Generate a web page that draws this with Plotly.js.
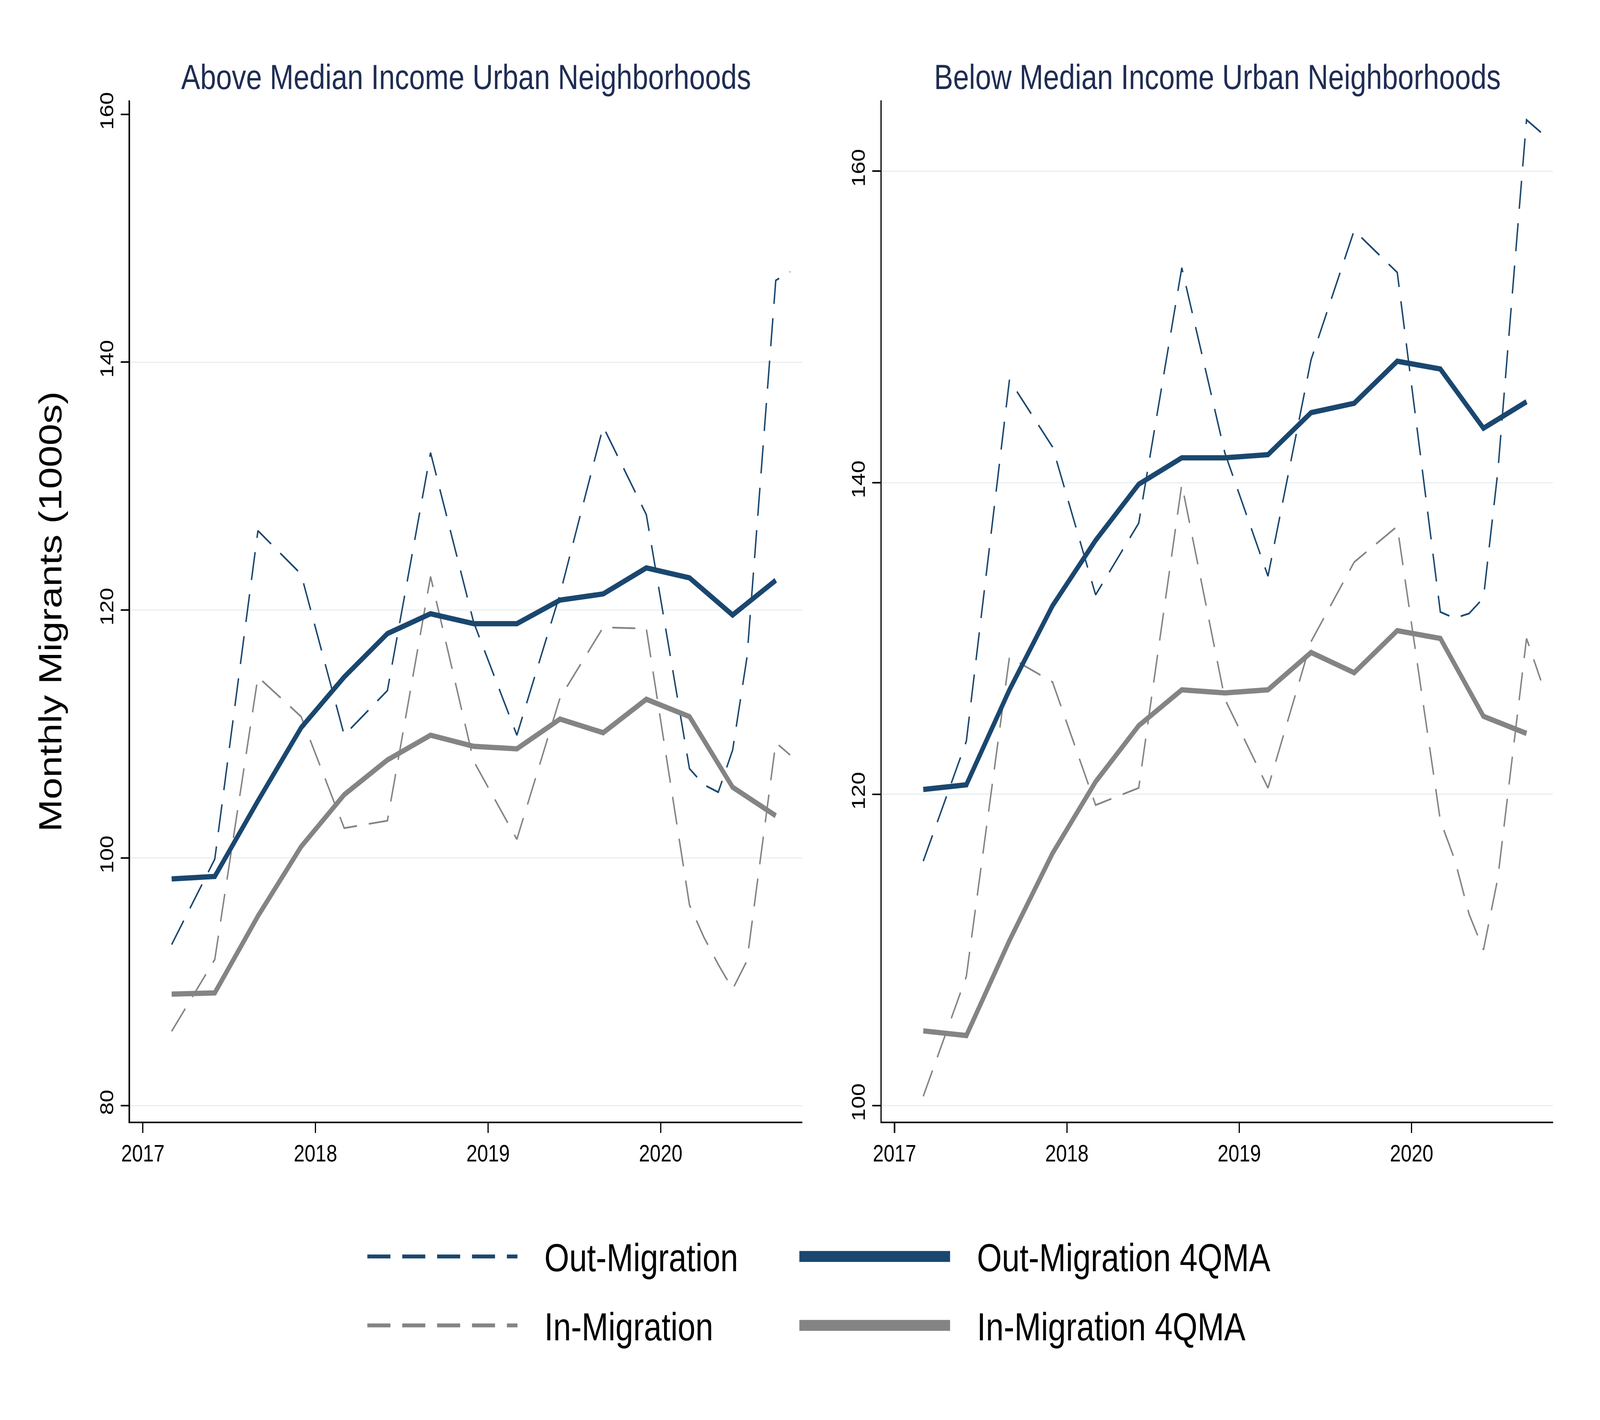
<!DOCTYPE html>
<html>
<head>
<meta charset="utf-8">
<script src="https://cdn.plot.ly/plotly-3.0.1.min.js"></script>
<style>
  html, body { margin: 0; padding: 0; background: #fff; overflow: hidden; }
  #chart { width: 5000px; height: 3636px; transform-origin: 0 0; }
</style>
</head>
<body>
<div id="chart"></div>
<script>
// x labels (year-month); raw series go monthly through 2020
const rawMonths = ["2017-03", "2017-06", "2017-09", "2017-12",
                   "2018-03", "2018-06", "2018-09", "2018-12",
                   "2019-03", "2019-06", "2019-09", "2019-12",
                   "2020-03", "2020-04", "2020-05", "2020-06", "2020-07", "2020-09", "2020-10"];
const maMonths = ["2017-03", "2017-06", "2017-09", "2017-12",
                  "2018-03", "2018-06", "2018-09", "2018-12",
                  "2019-03", "2019-06", "2019-09", "2019-12",
                  "2020-03", "2020-06", "2020-09"];

// Above median income panel
const outAbove   = [93.0, 99.9, 126.4, 122.9, 109.9, 113.5, 132.7, 119.0, 109.9, 121.3, 134.8, 127.7,
                    107.2, 105.9, 105.3, 108.7, 116.2, 146.6, 147.3];
const inAbove    = [86.0, 91.8, 114.6, 111.4, 102.4, 103.0, 122.7, 107.8, 101.5, 112.9, 118.6, 118.5,
                    96.2, 93.6, 91.4, 89.4, 91.7, 109.3, 108.3];
const outMaAbove = [98.3, 98.5, 104.6, 110.5, 114.6, 118.1, 119.7, 118.9, 118.9, 120.8, 121.3, 123.4, 122.6, 119.6, 122.4];
const inMaAbove  = [89.0, 89.1, 95.3, 100.9, 105.1, 107.9, 109.9, 109.0, 108.8, 111.2, 110.1, 112.8, 111.4, 105.7, 103.4];

// Below median income panel
const outBelow   = [115.7, 123.4, 146.6, 142.3, 132.8, 137.4, 153.8, 141.9, 134.0, 147.9, 156.2, 153.5,
                    131.7, 131.3, 131.6, 132.6, 140.7, 163.3, 162.5];
const inBelow    = [100.6, 108.3, 128.8, 127.2, 119.3, 120.4, 139.9, 126.1, 120.4, 129.8, 134.9, 137.2,
                    118.3, 115.8, 112.3, 110.0, 114.6, 130.0, 127.3];
const outMaBelow = [120.3, 120.6, 126.7, 132.1, 136.3, 139.9, 141.6, 141.6, 141.8, 144.5, 145.1, 147.8, 147.3, 143.5, 145.2];
const inMaBelow  = [104.8, 104.5, 110.6, 116.2, 120.8, 124.4, 126.7, 126.5, 126.7, 129.1, 127.8, 130.5, 130.0, 125.0, 123.9];

const panelTitles = ["Above Median Income Urban Neighborhoods", "Below Median Income Urban Neighborhoods"];
const xTickVals = [2017, 2018, 2019, 2020];
const yTicksAbove = [80, 100, 120, 140, 160];
const yTicksBelow = [100, 120, 140, 160];
const gridAbove = [80, 100, 120, 140];      // stata skips the grid line at the top edge
const gridBelow = [100, 120, 140, 160];

const FONT = "Liberation Sans, Arial, Helvetica, sans-serif";
const NAVY = "#1a476f";
const GREY = "#848484";
const DASH = "72px,37px";
const FIG_W = 5000, FIG_H = 3636;

const SERIES = [
    {name: "Out-Migration",      color: NAVY, width: 4.5,  dash: DASH,    legendWidth: 10},
    {name: "In-Migration",       color: GREY, width: 4.5,  dash: DASH,    legendWidth: 10},
    {name: "Out-Migration 4QMA", color: NAVY, width: 13.5, dash: "solid", legendWidth: 28},
    {name: "In-Migration 4QMA",  color: GREY, width: 13.5, dash: "solid", legendWidth: 28},
];

function toYear(s) {
    const [y, m] = s.split("-").map(Number);
    return y + (m - 1) / 12;
}

function panelTraces(xa, ya, out, inn, outMa, inMa) {
    const rawX = rawMonths.map(toYear);
    const maX = maMonths.map(toYear);
    const ys = [out, inn, outMa, inMa];
    const xs = [rawX, rawX, maX, maX];
    return SERIES.map((s, i) => ({
        x: xs[i],
        y: ys[i],
        xaxis: xa,
        yaxis: ya,
        type: "scatter",
        mode: "lines",
        name: s.name,
        showlegend: false,
        line: {color: s.color, width: s.width, dash: s.dash},
        hoverinfo: "skip"
    }));
}

const traces = [
    ...panelTraces("x", "y", outAbove, inAbove, outMaAbove, inMaAbove),
    ...panelTraces("x2", "y2", outBelow, inBelow, outMaBelow, inMaBelow),
];

const xAxisBase = {
    range: [2016.925, 2020.82],
    tickvals: xTickVals,
    ticktext: xTickVals.map(String),
    ticks: "outside", ticklen: 25, tickwidth: 4, tickcolor: "#000",
    showline: true, linecolor: "#000", linewidth: 4,
    showgrid: false, zeroline: false,
    tickfont: {family: FONT, size: 61, color: "#000"},
};

const yAxisBase = {
    domain: [0.2101, 0.9293],
    ticks: "outside", ticklen: 25, tickwidth: 4, tickcolor: "#000",
    tickangle: -90,
    showline: true, linecolor: "#000", linewidth: 4,
    showgrid: false, zeroline: false,
    tickfont: {family: FONT, size: 58, color: "#000"},
};

// grid lines as shapes so the top edge one can be left out
const shapes = [];
gridAbove.forEach(v => shapes.push({
    type: "line", xref: "x domain", yref: "y", x0: 0, x1: 1, y0: v, y1: v,
    line: {color: "#e8eff0", width: 3}, layer: "below"
}));
gridBelow.forEach(v => shapes.push({
    type: "line", xref: "x2 domain", yref: "y2", x0: 0, x1: 1, y0: v, y1: v,
    line: {color: "#e8eff0", width: 3}, layer: "below"
}));

// hand-made legend, plotly legend keys are too short for this layout
const legendRows = [0.1152, 0.0666];
const legendCols = [{key0: 0.2296, key1: 0.3234, text: 0.3398},
                    {key0: 0.4996, key1: 0.5938, text: 0.6102}];
const annotations = [];
SERIES.forEach((s, i) => {
    const col = legendCols[Math.floor(i / 2)];
    const row = legendRows[i % 2];
    shapes.push({
        type: "line", xref: "paper", yref: "paper",
        x0: col.key0, x1: col.key1, y0: row, y1: row,
        line: {color: s.color, width: s.legendWidth, dash: s.dash}
    });
    annotations.push({
        xref: "paper", yref: "paper", x: col.text, y: row - 0.0008,
        xanchor: "left", yanchor: "middle", showarrow: false,
        text: s.name,
        font: {family: FONT, size: 100, color: "#000"}
    });
});

[0.2912, 0.7608].forEach((cx, i) => annotations.push({
    xref: "paper", yref: "paper", x: cx, y: 0.9458,
    xanchor: "center", yanchor: "middle", showarrow: false,
    text: panelTitles[i],
    font: {family: FONT, size: 89, color: "#1f2d54"}
}));

annotations.push({
    xref: "paper", yref: "paper", x: 0.0314, y: 0.5693,
    xanchor: "center", yanchor: "middle", showarrow: false,
    textangle: -90,
    text: "Monthly Migrants (1000s)",
    font: {family: FONT, size: 100, color: "#000"}
});

const layout = {
    width: FIG_W,
    height: FIG_H,
    margin: {l: 0, r: 0, t: 0, b: 0},
    paper_bgcolor: "#fff",
    plot_bgcolor: "#fff",
    showlegend: false,
    xaxis: {...xAxisBase, domain: [0.0812, 0.5014], anchor: "y"},
    yaxis: {...yAxisBase, range: [78.71, 161.13], tickvals: yTicksAbove, anchor: "x"},
    xaxis2: {...xAxisBase, domain: [0.551, 0.9706], anchor: "y2"},
    yaxis2: {...yAxisBase, range: [98.97, 164.55], tickvals: yTicksBelow, anchor: "x2"},
    shapes: shapes,
    annotations: annotations,
};

// the window can come out narrower than the figure, so fit the figure into it
const chart = document.getElementById("chart");
const sx = Math.min(1, window.innerWidth / FIG_W);
const sy = Math.min(1, window.innerHeight / FIG_H);
chart.style.transform = `scale(${sx}, ${sy})`;

Plotly.newPlot("chart", traces, layout, {staticPlot: true});
</script>
</body>
</html>
